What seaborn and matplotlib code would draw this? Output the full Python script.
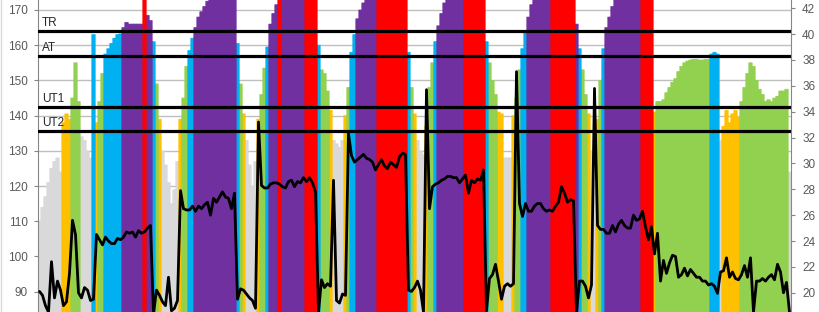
import numpy as np
import pandas as pd
import matplotlib
matplotlib.use("Agg")
import matplotlib.pyplot as plt
import seaborn as sns
from matplotlib.lines import Line2D

# heart rate per sample (left axis)
heart_rate = [
    110, 114, 117, 121, 125, 127, 128, 124, 138, 140.5,
    139, 145, 155, 144, 134, 133, 130, 128, 163, 138,
    144, 152, 157.5, 159, 160.5, 162, 163, 163.2, 165, 166.5,
    166, 166, 166, 166, 166, 180, 168.5, 167, 161, 149,
    139, 130, 126, 121, 115, 119, 127, 139, 145, 154,
    158.5, 162, 165, 168, 169.5, 171, 172.5, 174, 174, 174,
    174, 174, 174, 174, 174, 174, 160.5, 149, 140.5, 133,
    126, 120, 127, 139, 146, 153.5, 159.5, 166, 169, 171.5,
    180, 174, 174, 174, 174, 174, 174, 174, 174, 180,
    180, 180, 180, 160, 153, 152, 147, 141.5, 133, 132,
    131, 133, 140, 148, 158, 163, 167.5, 170, 172, 174,
    174, 174, 174, 180, 180, 180, 180, 180, 180, 180,
    180, 180, 180, 158, 148, 140.5, 133, 130, 129, 137,
    148, 155, 161, 165.5, 169, 172, 174, 174, 174, 174,
    174, 174, 180, 180, 180, 180, 180, 180, 180, 161,
    155, 150, 146, 141, 140.5, 128, 128, 128, 140, 145,
    153, 159, 163.5, 168, 171.5, 174, 174, 174, 174, 174,
    174, 180, 180, 180, 180, 180, 180, 180, 180, 166,
    159, 153, 146, 140.5, 130, 130, 139, 150, 159, 165,
    168, 171, 174, 174, 174, 174, 174, 174, 174, 174,
    174, 180, 180, 180, 180, 141, 144, 144, 144.5, 146.5,
    148, 149.5, 150.5, 152.5, 154, 155, 155.5, 155.8, 156, 156,
    155.8, 155.8, 156, 156, 157.5, 158, 157.5, 133, 137, 141.5,
    138, 140.5, 141.5, 139.5, 144, 148, 152, 155, 154, 150,
    147.5, 146, 144, 144.5, 144, 145, 145.5, 147, 147, 147.5,
    124,
]

# speed per sample (right axis)
speed = [
    20.1, 19.8, 19.0, 18.5, 22.4, 19.6, 20.9, 20.2, 19.0, 19.3,
    21.5, 25.6, 24.5, 20.0, 19.6, 20.4, 20.2, 19.4, 19.5, 24.5,
    24.1, 23.7, 24.3, 24.0, 23.8, 23.8, 24.2, 24.1, 24.3, 24.7,
    24.6, 24.7, 24.3, 24.8, 24.6, 24.7, 25.0, 25.2, 18.4, 20.2,
    19.8, 19.3, 19.0, 21.2, 18.6, 18.8, 19.4, 27.9, 26.5, 26.4,
    26.4, 26.7, 26.3, 26.7, 26.5, 26.8, 27.0, 26.0, 27.3, 27.0,
    27.4, 27.8, 27.4, 27.3, 26.5, 27.7, 19.5, 20.3, 20.2, 19.9,
    19.6, 19.4, 18.8, 33.2, 28.3, 28.1, 28.1, 28.4, 28.5, 28.5,
    28.4, 28.2, 28.1, 28.6, 28.7, 28.2, 28.6, 28.5, 28.9, 28.6,
    28.9, 28.5, 27.8, 18.5, 21.0, 20.4, 20.7, 20.5, 28.7, 19.4,
    19.2, 19.9, 19.8, 32.3, 30.6, 30.1, 30.3, 30.5, 30.7, 30.4,
    30.3, 30.1, 29.5, 29.9, 30.3, 29.8, 29.6, 30.1, 29.9, 29.7,
    30.5, 30.8, 30.7, 20.2, 20.1, 20.4, 20.9, 20.2, 18.5, 35.7,
    26.5, 28.2, 28.4, 28.5, 28.7, 28.8, 29.0, 29.0, 28.9, 28.9,
    28.5, 28.8, 29.1, 27.7, 28.7, 28.5, 28.8, 28.7, 29.5, 18.6,
    21.1, 21.4, 22.2, 20.9, 19.5, 20.5, 20.7, 20.5, 20.7, 37.1,
    26.9, 25.9, 26.9, 26.3, 26.3, 26.7, 26.9, 26.9, 26.5, 26.3,
    26.4, 26.3, 26.7, 27.0, 28.2, 27.7, 27.0, 27.2, 27.1, 18.5,
    20.9, 20.9, 20.5, 19.6, 20.6, 35.8, 25.2, 24.9, 24.9, 24.6,
    24.6, 25.2, 24.7, 25.3, 25.6, 25.2, 25.0, 25.0, 26.0, 25.6,
    25.7, 26.3, 25.1, 24.1, 25.1, 23.0, 24.6, 20.9, 22.5, 21.5,
    22.3, 22.9, 22.8, 21.2, 21.4, 21.9, 21.3, 21.8, 21.5, 21.2,
    21.2, 20.9, 20.9, 20.6, 20.7, 20.5, 19.95, 21.6, 21.7, 22.7,
    21.2, 21.6, 21.1, 21.0, 21.4, 22.1, 21.2, 22.7, 18.5, 20.9,
    20.9, 21.1, 20.9, 21.2, 21.4, 21.0, 22.2, 21.6, 20.0, 20.8,
    18.5,
]

zone_names = ["Recovery", "UT2", "UT1", "AT", "TR", "AN"]
zone_bounds = [135.5, 142.5, 157.0, 164.0, 176.0]
zone_colors = ["#D9D9D9", "#FFC000", "#92D050", "#00B0F0", "#7030A0", "#FF0000"]

threshold_labels = ["TR", "AT", "UT1", "UT2"]
threshold_values = [164.0, 156.8, 142.5, 135.6]

hr_ticks = list(range(90, 171, 10))
speed_ticks = list(range(20, 43, 2))

assert len(heart_rate) == len(speed)

sns.set_theme(style="white")
plt.rcParams["font.family"] = ["Liberation Sans", "DejaVu Sans"]

n = len(heart_rate)
df = pd.DataFrame({"sample": np.arange(n), "hr": heart_rate, "speed": speed})
df["zone"] = [zone_names[k] for k in np.digitize(df["hr"], zone_bounds)]

fig = plt.figure(figsize=(8.2, 3.12), dpi=100)
ax = fig.add_axes([38 / 820, 0, 753 / 820, 1])

sns.barplot(data=df, x="sample", y="hr", hue="zone",
            palette=dict(zip(zone_names, zone_colors)), hue_order=zone_names,
            width=1.0, linewidth=0, saturation=1, errorbar=None,
            legend=False, ax=ax)
for p in ax.patches:
    # slight overlap so neighbouring bars show no hairline seams
    p.set_x(p.get_x() - 0.06)
    p.set_width(p.get_width() + 0.12)
    p.set_edgecolor(p.get_facecolor())
    p.set_linewidth(0.5)
    p.set_snap(False)

ax.set_xlim(-0.5, n - 0.5)
ax.set_ylim(84.23, 172.84)
ax.set_yticks(hr_ticks)
ax.set_xticks([])
ax.set_xlabel("")
ax.set_ylabel("")
ax.yaxis.grid(True, color="#BFBFBF", lw=1.0)
ax.set_axisbelow(True)

for lab, v in zip(threshold_labels, threshold_values):
    ax.axhline(v, color="black", lw=2.3, zorder=5)
    ax.text(0.005, v + 0.6, lab, transform=ax.get_yaxis_transform(),
            ha="left", va="bottom", fontsize=8.5, color="#262626", zorder=6)

ax2 = ax.twinx()
sns.lineplot(x=df["sample"], y=df["speed"], ax=ax2, color="black", lw=2.0,
             sort=False, estimator=None)
ax2.set_ylim(18.51, 42.64)
ax2.set_yticks(speed_ticks)
ax2.set_ylabel("")
ax2.set_xlim(-0.5, n - 0.5)

for a in (ax, ax2):
    for s in ("top", "bottom"):
        a.spines[s].set_visible(False)
ax.spines["right"].set_visible(False)
ax.spines["left"].set_color("#868686")
ax.spines["left"].set_linewidth(0.8)
ax2.spines["left"].set_visible(False)
ax2.spines["right"].set_color("#868686")
ax2.spines["right"].set_linewidth(0.8)

ax.tick_params(axis="y", left=True, length=3, width=0.8, color="#868686",
               pad=4.5, labelsize=8.5, labelcolor="#595959")
ax2.tick_params(axis="y", right=True, length=3, width=0.8, color="#868686",
                pad=5, labelsize=8.5, labelcolor="#595959")

fig.add_artist(Line2D([1.5 / 820, 1.5 / 820], [0, 1], color="#D9D9D9", lw=1,
                      transform=fig.transFigure))

fig.savefig("out.png", dpi=100)
